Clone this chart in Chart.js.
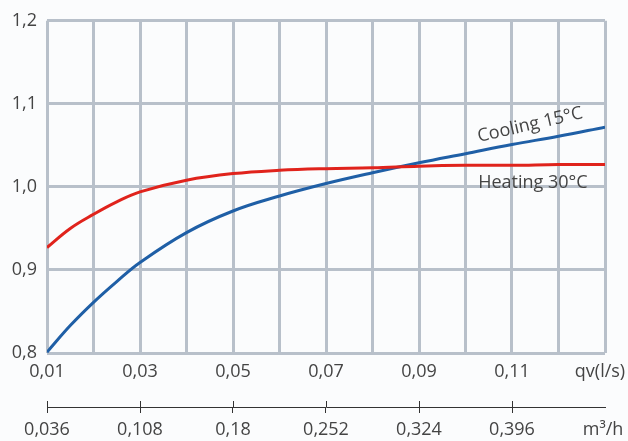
<!DOCTYPE html>
<html>
<head>
<meta charset="utf-8">
<script src="https://cdn.jsdelivr.net/npm/chart.js@4/dist/chart.umd.min.js"></script>
<style>
  html, body { margin: 0; padding: 0; background: #fbfcfd; }
  #chart { display: block; }
</style>
</head>
<body>
<canvas id="chart" width="628" height="441"></canvas>
<script>
// flow in l/s
const qv = [0.01, 0.015, 0.02, 0.025, 0.03, 0.04, 0.05, 0.06, 0.07, 0.08, 0.09, 0.10, 0.11, 0.12, 0.13];
const heating = [0.927, 0.950, 0.967, 0.982, 0.994, 1.008, 1.016, 1.020, 1.022, 1.023, 1.025, 1.026, 1.026, 1.027, 1.027];
const cooling = [0.801, 0.833, 0.861, 0.886, 0.909, 0.945, 0.971, 0.989, 1.004, 1.017, 1.029, 1.040, 1.051, 1.061, 1.072];

const qvGrid = [0.01, 0.02, 0.03, 0.04, 0.05, 0.06, 0.07, 0.08, 0.09, 0.10, 0.11, 0.12, 0.13];
const qvLabels = [0.01, 0.03, 0.05, 0.07, 0.09, 0.11];
const m3Labels = [0.036, 0.108, 0.18, 0.252, 0.324, 0.396];
const yTicks = [0.8, 0.9, 1.0, 1.1, 1.2];

const seriesNames = ['Heating 30°C', 'Cooling 15°C'];

const textColor = '#444';
const gridColor = '#b8c0ca';
const font = { family: 'Open Sans', size: 18 };

const comma = v => String(v).replace('.', ',');

// curve labels + unit texts + crossing ticks of the m3/h axis
const extras = {
  id: 'extras',
  afterDraw(chart) {
    const { ctx, scales } = chart;
    const x = scales.x, y = scales.y, x2 = scales.x2;
    ctx.save();
    ctx.fillStyle = textColor;
    ctx.font = '18px "Open Sans"';
    ctx.textAlign = 'center';
    ctx.textBaseline = 'middle';

    ctx.save();
    ctx.translate(x.getPixelForValue(0.1139), y.getPixelForValue(1.0745));
    ctx.rotate(-13 * Math.PI / 180);
    ctx.fillText(seriesNames[1], 0, 0);
    ctx.restore();

    ctx.fillText(seriesNames[0], x.getPixelForValue(0.1145), y.getPixelForValue(1.0045));

    ctx.fillText('qv(l/s)', chart.chartArea.right - 5, x.top + 19);
    ctx.fillText('m³/h', chart.chartArea.right - 2, x2.top + 23);

    ctx.strokeStyle = '#333';
    ctx.lineWidth = 1;
    ctx.beginPath();
    m3Labels.forEach(v => {
      const px = Math.round(x2.getPixelForValue(v)) + 0.5;
      ctx.moveTo(px, x2.top - 6);
      ctx.lineTo(px, x2.top);
    });
    ctx.stroke();
    ctx.restore();
  }
};

const toPoints = vals => qv.map((q, i) => ({ x: q, y: vals[i] }));

new Chart(document.getElementById('chart'), {
  type: 'line',
  data: {
    datasets: [
      {
        label: seriesNames[0],
        data: toPoints(heating),
        borderColor: '#e0231c',
        borderWidth: 3,
        pointRadius: 0,
        tension: 0.4
      },
      {
        label: seriesNames[1],
        data: toPoints(cooling),
        borderColor: '#1f5fa6',
        borderWidth: 3,
        pointRadius: 0,
        tension: 0.4
      }
    ]
  },
  options: {
    responsive: false,
    animation: false,
    layout: { padding: { top: 20, right: 23, left: 0, bottom: 0 } },
    plugins: { legend: { display: false }, tooltip: { enabled: false } },
    scales: {
      x: {
        type: 'linear',
        position: 'bottom',
        weight: 0,
        min: 0.01,
        max: 0.13,
        afterBuildTicks: s => { s.ticks = qvGrid.map(v => ({ value: v })); },
        afterFit: s => { s.height = 54; },
        grid: { color: gridColor, lineWidth: 3, drawTicks: false },
        border: { display: false },
        ticks: {
          color: textColor,
          font: font,
          padding: 8,
          maxRotation: 0,
          autoSkip: false,
          callback: v => qvLabels.some(l => Math.abs(l - v) < 1e-6) ? comma(+v.toFixed(2)) : ''
        }
      },
      x2: {
        type: 'linear',
        position: 'bottom',
        weight: 10,
        min: 0.036,
        max: 0.468,
        afterBuildTicks: s => { s.ticks = m3Labels.map(v => ({ value: v })); },
        afterFit: s => { s.height = 34; },
        grid: { drawOnChartArea: false, color: '#333', lineWidth: 1, tickLength: 6 },
        border: { display: true, color: '#333', width: 1 },
        ticks: {
          color: textColor,
          font: font,
          padding: 6,
          maxRotation: 0,
          autoSkip: false,
          callback: v => comma(v)
        }
      },
      y: {
        min: 0.8,
        max: 1.2,
        afterBuildTicks: s => { s.ticks = yTicks.map(v => ({ value: v })); },
        afterFit: s => { s.width = 47; },
        grid: { color: gridColor, lineWidth: 3, drawTicks: false },
        border: { display: false },
        ticks: {
          color: textColor,
          font: font,
          padding: 10,
          callback: v => v.toFixed(1).replace('.', ',')
        }
      }
    }
  },
  plugins: [extras]
});
</script>
</body>
</html>
